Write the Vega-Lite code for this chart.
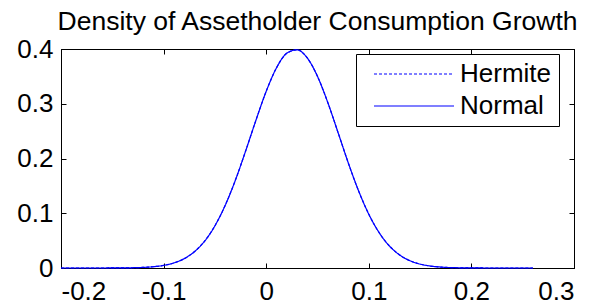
{
  "$schema": "https://vega.github.io/schema/vega-lite/v6.json",
  "autosize": "none",
  "padding": {"left": 61, "top": 49, "right": 31, "bottom": 40},
  "width": 513,
  "height": 219,
  "background": "white",
  "config": {
    "font": "Liberation Sans",
    "view": {"stroke": "black", "strokeWidth": 1},
    "axis": {
      "grid": false,
      "domainColor": "black",
      "domainWidth": 1,
      "tickColor": "black",
      "tickWidth": 1,
      "tickSize": -5,
      "labelColor": "black",
      "labelFont": "Liberation Sans",
      "labelFontSize": 26,
      "title": null
    }
  },
  "title": {
    "text": "Density of Assetholder Consumption Growth",
    "font": "Liberation Sans",
    "fontSize": 26.5,
    "fontWeight": "normal",
    "color": "black",
    "anchor": "middle",
    "offset": 1
  },
  "data": {
    "values": [
      {"x": -0.2, "Hermite": 0.0000003, "Normal": 0.0000003},
      {"x": -0.19, "Hermite": 0.000001, "Normal": 0.000001},
      {"x": -0.18, "Hermite": 0.0000033, "Normal": 0.0000033},
      {"x": -0.17, "Hermite": 0.00001, "Normal": 0.00001},
      {"x": -0.16, "Hermite": 0.000028, "Normal": 0.000028},
      {"x": -0.15, "Hermite": 0.000076, "Normal": 0.000076},
      {"x": -0.14, "Hermite": 0.000193, "Normal": 0.000193},
      {"x": -0.13, "Hermite": 0.000467, "Normal": 0.000467},
      {"x": -0.12, "Hermite": 0.00107, "Normal": 0.00107},
      {"x": -0.11, "Hermite": 0.00232, "Normal": 0.00232},
      {"x": -0.1, "Hermite": 0.00475, "Normal": 0.00475},
      {"x": -0.09, "Hermite": 0.00925, "Normal": 0.00925},
      {"x": -0.08, "Hermite": 0.017, "Normal": 0.017},
      {"x": -0.07, "Hermite": 0.0297, "Normal": 0.0297},
      {"x": -0.06, "Hermite": 0.0491, "Normal": 0.0491},
      {"x": -0.05, "Hermite": 0.077, "Normal": 0.077},
      {"x": -0.04, "Hermite": 0.1143, "Normal": 0.1143},
      {"x": -0.03, "Hermite": 0.1606, "Normal": 0.1606},
      {"x": -0.02, "Hermite": 0.214, "Normal": 0.214},
      {"x": -0.01, "Hermite": 0.2699, "Normal": 0.2699},
      {"x": 0, "Hermite": 0.3227, "Normal": 0.3227},
      {"x": 0.01, "Hermite": 0.3655, "Normal": 0.3655},
      {"x": 0.02, "Hermite": 0.3921, "Normal": 0.3921},
      {"x": 0.03, "Hermite": 0.3985, "Normal": 0.3985},
      {"x": 0.04, "Hermite": 0.3837, "Normal": 0.3837},
      {"x": 0.05, "Hermite": 0.35, "Normal": 0.35},
      {"x": 0.06, "Hermite": 0.3024, "Normal": 0.3024},
      {"x": 0.07, "Hermite": 0.2476, "Normal": 0.2476},
      {"x": 0.08, "Hermite": 0.192, "Normal": 0.192},
      {"x": 0.09, "Hermite": 0.1411, "Normal": 0.1411},
      {"x": 0.1, "Hermite": 0.0982, "Normal": 0.0982},
      {"x": 0.11, "Hermite": 0.0648, "Normal": 0.0648},
      {"x": 0.12, "Hermite": 0.0404, "Normal": 0.0404},
      {"x": 0.13, "Hermite": 0.0239, "Normal": 0.0239},
      {"x": 0.14, "Hermite": 0.0134, "Normal": 0.0134},
      {"x": 0.15, "Hermite": 0.00712, "Normal": 0.00712},
      {"x": 0.16, "Hermite": 0.00359, "Normal": 0.00359},
      {"x": 0.17, "Hermite": 0.00171, "Normal": 0.00171},
      {"x": 0.18, "Hermite": 0.00077, "Normal": 0.00077},
      {"x": 0.19, "Hermite": 0.00033, "Normal": 0.00033},
      {"x": 0.2, "Hermite": 0.000134, "Normal": 0.000134},
      {"x": 0.21, "Hermite": 0.00005, "Normal": 0.00005},
      {"x": 0.22, "Hermite": 0.000018, "Normal": 0.000018},
      {"x": 0.23, "Hermite": 0.000006, "Normal": 0.000006},
      {"x": 0.24, "Hermite": 0.000002, "Normal": 0.000002},
      {"x": 0.25, "Hermite": 0.0000006, "Normal": 0.0000006},
      {"x": 0.26, "Hermite": 0.0000002, "Normal": 0.0000002}
    ]
  },
  "transform": [{"fold": ["Hermite", "Normal"], "as": ["series", "density"]}],
  "layer": [
    {
      "transform": [{"filter": "datum.series == 'Hermite'"}],
      "mark": {"type": "line", "color": "#0000ff", "strokeWidth": 1.2, "interpolate": "monotone"},
      "encoding": {
        "x": {
          "field": "x", "type": "quantitative",
          "scale": {"domain": [-0.2, 0.3], "nice": false, "zero": false},
          "axis": {"orient": "bottom", "values": [-0.2, -0.1, 0, 0.1, 0.2, 0.3], "labelPadding": 15,
            "labelExpr": "datum.value < 0 ? '-' + format(-datum.value, '~g') : format(datum.value, '~g')"}
        },
        "y": {
          "field": "density", "type": "quantitative",
          "scale": {"domain": [0, 0.4], "nice": false},
          "axis": {"orient": "left", "values": [0, 0.1, 0.2, 0.3, 0.4], "labelPadding": 13,
            "labelExpr": "format(datum.value, '~g')"}
        },
        "strokeDash": {
          "field": "series", "type": "nominal",
          "scale": {"domain": ["Hermite", "Normal"], "range": [[3, 2], [1, 0]]},
          "legend": {
            "title": null,
            "orient": "none",
            "legendX": 295,
            "legendY": 5,
            "symbolType": "M-1,0H7",
            "symbolSize": 400,
            "symbolStrokeColor": "#0000ff",
            "symbolStrokeWidth": 1.2,
            "symbolOffset": 8,
            "labelOffset": 63,
            "labelFont": "Liberation Sans",
            "labelFontSize": 26,
            "labelColor": "black",
            "rowPadding": 6,
            "padding": 7,
            "fillColor": "white",
            "strokeColor": "black",
            "cornerRadius": 0
          }
        }
      }
    },
    {
      "transform": [{"filter": "datum.series == 'Normal'"}],
      "mark": {"type": "line", "color": "#0000ff", "strokeWidth": 1.2, "interpolate": "monotone"},
      "encoding": {
        "x": {
          "field": "x", "type": "quantitative",
          "scale": {"domain": [-0.2, 0.3], "nice": false, "zero": false},
          "axis": {"orient": "top", "values": [-0.2, -0.1, 0, 0.1, 0.2, 0.3], "labels": false}
        },
        "y": {
          "field": "density", "type": "quantitative",
          "scale": {"domain": [0, 0.4], "nice": false},
          "axis": {"orient": "right", "values": [0, 0.1, 0.2, 0.3, 0.4], "labels": false}
        },
        "strokeDash": {"field": "series", "type": "nominal"}
      }
    }
  ],
  "resolve": {"axis": {"x": "independent", "y": "independent"}}
}
